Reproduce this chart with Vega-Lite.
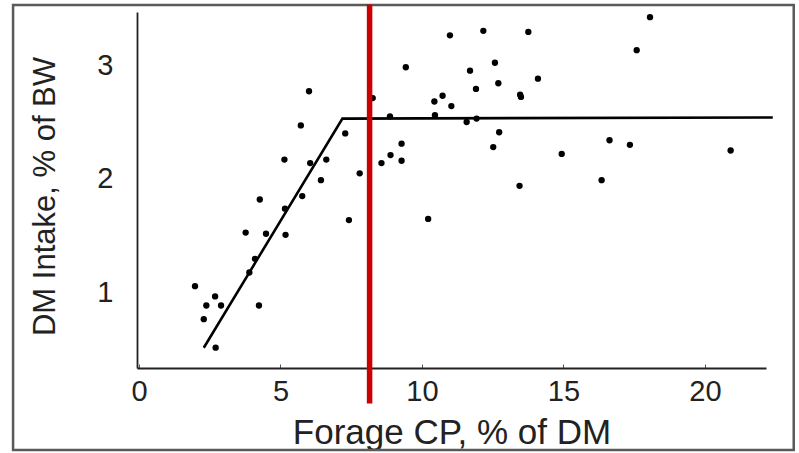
{
  "$schema": "https://vega.github.io/schema/vega-lite/v6.json",
  "width": 629,
  "height": 356,
  "autosize": "none",
  "padding": {"left": 137, "top": 12, "right": 33, "bottom": 85},
  "background": "white",
  "config": {"view": {"stroke": null}, "font": "Liberation Sans"},
  "datasets": {
    "pts": [
      {"cp": 6.01, "dmi": 2.77}, {"cp": 8.26, "dmi": 2.71}, {"cp": 5.72, "dmi": 2.47}, {"cp": 7.29, "dmi": 2.40},
      {"cp": 5.14, "dmi": 2.17}, {"cp": 6.05, "dmi": 2.14}, {"cp": 6.62, "dmi": 2.17}, {"cp": 6.43, "dmi": 1.99},
      {"cp": 7.80, "dmi": 2.05}, {"cp": 4.27, "dmi": 1.82}, {"cp": 5.77, "dmi": 1.85}, {"cp": 5.16, "dmi": 1.74},
      {"cp": 7.42, "dmi": 1.64}, {"cp": 3.77, "dmi": 1.53}, {"cp": 4.49, "dmi": 1.52}, {"cp": 5.18, "dmi": 1.51},
      {"cp": 4.10, "dmi": 1.30}, {"cp": 3.90, "dmi": 1.18}, {"cp": 1.98, "dmi": 1.06}, {"cp": 2.69, "dmi": 0.97},
      {"cp": 2.38, "dmi": 0.89}, {"cp": 2.90, "dmi": 0.89}, {"cp": 4.24, "dmi": 0.89}, {"cp": 2.29, "dmi": 0.77},
      {"cp": 2.71, "dmi": 0.52},
      {"cp": 10.99, "dmi": 3.26}, {"cp": 12.17, "dmi": 3.30}, {"cp": 13.76, "dmi": 3.29}, {"cp": 9.43, "dmi": 2.98},
      {"cp": 12.58, "dmi": 3.02}, {"cp": 11.70, "dmi": 2.95}, {"cp": 12.70, "dmi": 2.84}, {"cp": 14.10, "dmi": 2.88},
      {"cp": 11.91, "dmi": 2.79}, {"cp": 10.44, "dmi": 2.68}, {"cp": 10.73, "dmi": 2.73}, {"cp": 11.04, "dmi": 2.64},
      {"cp": 13.50, "dmi": 2.72}, {"cp": 13.47, "dmi": 2.74}, {"cp": 8.87, "dmi": 2.55}, {"cp": 10.46, "dmi": 2.56},
      {"cp": 11.58, "dmi": 2.50}, {"cp": 11.93, "dmi": 2.53}, {"cp": 12.73, "dmi": 2.41}, {"cp": 12.52, "dmi": 2.28},
      {"cp": 9.28, "dmi": 2.31}, {"cp": 8.89, "dmi": 2.21}, {"cp": 8.57, "dmi": 2.14}, {"cp": 9.28, "dmi": 2.16},
      {"cp": 14.94, "dmi": 2.22}, {"cp": 13.45, "dmi": 1.94}, {"cp": 10.22, "dmi": 1.65},
      {"cp": 18.06, "dmi": 3.42}, {"cp": 17.59, "dmi": 3.13}, {"cp": 16.63, "dmi": 2.34}, {"cp": 17.35, "dmi": 2.30},
      {"cp": 20.91, "dmi": 2.25}, {"cp": 16.35, "dmi": 1.99}
    ],
    "fit": [
      {"cp": 2.29, "dmi": 0.52}, {"cp": 7.19, "dmi": 2.53}, {"cp": 22.4, "dmi": 2.54}
    ],
    "cut": [{"cp": 8.15, "lo": 0.03, "hi": 3.53}],
    "frame": [{"x1": -4.45, "x2": 23.14, "y1": 3.526, "y2": -0.377}]
  },
  "layer": [
    {
      "data": {"name": "frame"},
      "mark": {"type": "rect", "fill": null, "stroke": "#5a5a5a", "strokeWidth": 2.5, "clip": false},
      "encoding": {
        "x": {"field": "x1", "type": "quantitative", "scale": {"domain": [-0.07, 22.16], "nice": false, "zero": false}},
        "x2": {"field": "x2"},
        "y": {"field": "y1", "type": "quantitative", "scale": {"domain": [0.342, 3.465], "nice": false, "zero": false}},
        "y2": {"field": "y2"}
      }
    },
    {
      "data": {"name": "pts"},
      "mark": {"type": "circle", "color": "black", "opacity": 1, "size": 40},
      "encoding": {
        "x": {
          "field": "cp", "type": "quantitative",
          "scale": {"domain": [-0.07, 22.16], "nice": false, "zero": false},
          "axis": {
            "title": "Forage CP, % of DM",
            "values": [0, 5, 10, 15, 20],
            "format": "d",
            "labelOverlap": false,
            "grid": false,
            "domainColor": "#222", "domainWidth": 1.8,
            "tickColor": "#555", "tickSize": -4, "tickWidth": 1,
            "labelFontSize": 29, "labelColor": "#222", "labelPadding": 13,
            "titleFontSize": 35, "titleFontWeight": "normal", "titleColor": "#222",
            "titleBaseline": "alphabetic", "titleY": 75
          }
        },
        "y": {
          "field": "dmi", "type": "quantitative",
          "scale": {"domain": [0.342, 3.465], "nice": false, "zero": false},
          "axis": {
            "title": "DM Intake, % of BW",
            "values": [1, 2, 3],
            "format": "d",
            "labelOverlap": false,
            "grid": false, "ticks": false,
            "domainColor": "#222", "domainWidth": 1.8,
            "labelFontSize": 29, "labelColor": "#222", "labelPadding": 24,
            "titleFontSize": 31, "titleFontWeight": "normal", "titleColor": "#222",
            "titleBaseline": "alphabetic", "titleX": -83, "titleY": 184
          }
        }
      }
    },
    {
      "data": {"name": "fit"},
      "mark": {"type": "line", "color": "black", "strokeWidth": 2.6, "clip": false},
      "encoding": {
        "x": {"field": "cp", "type": "quantitative"},
        "y": {"field": "dmi", "type": "quantitative"}
      }
    },
    {
      "data": {"name": "cut"},
      "mark": {"type": "rule", "color": "#cc0000", "strokeWidth": 5.5, "clip": false},
      "encoding": {
        "x": {"field": "cp", "type": "quantitative"},
        "y": {"field": "lo", "type": "quantitative"},
        "y2": {"field": "hi"}
      }
    }
  ]
}
